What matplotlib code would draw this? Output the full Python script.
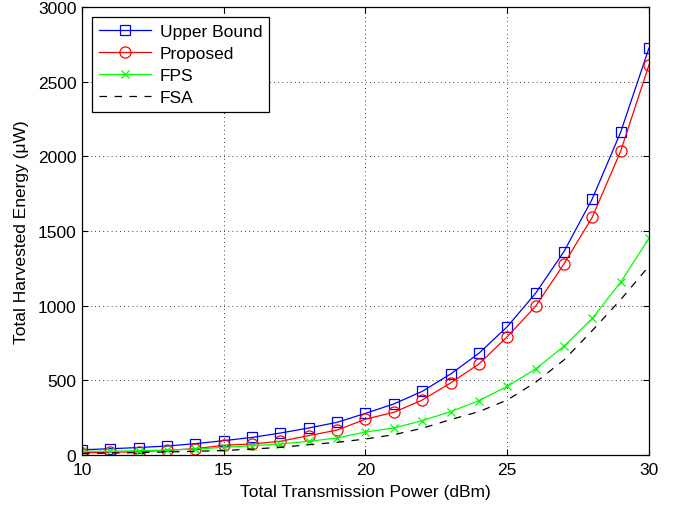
import matplotlib
matplotlib.use("Agg")
import matplotlib.pyplot as plt

plt.rcParams['font.family'] = ['Liberation Sans', 'DejaVu Sans']

power_dbm = list(range(10, 31))
upper_bound = [35, 42, 50, 60, 76, 96, 118, 147, 181, 219, 279, 342, 426, 542, 681, 859, 1083, 1362, 1715, 2161, 2725]
proposed = [15, 18, 22, 32, 42, 65, 74, 92, 130, 167, 240, 286, 368, 482, 609, 792, 996, 1279, 1592, 2034, 2612]
fps = [25, 25, 29, 33, 40, 51, 62, 74, 92, 114, 154, 181, 230, 290, 364, 460, 576, 728, 915, 1157, 1451]
fsa = [10, 13, 16, 20, 25, 30, 40, 51, 69, 85, 107, 136, 179, 237, 290, 368, 487, 636, 833, 1040, 1265]

fig = plt.figure(figsize=(6.85, 5.06), dpi=100)
ax = fig.add_axes([0.1197, 0.0988, 0.8277, 0.8854])

ax.plot(power_dbm, upper_bound, color='blue', lw=0.9, marker='s', ms=7, mfc='none', mec='blue', mew=0.9, label='Upper Bound')
ax.plot(power_dbm, proposed, color='red', lw=0.9, marker='o', ms=8, mfc='none', mec='red', mew=0.9, label='Proposed')
ax.plot(power_dbm, fps, color=(0, 1, 0), lw=0.9, marker='x', ms=6, mec=(0, 1, 0), mew=0.9, label='FPS')
ax.plot(power_dbm, fsa, color='black', lw=0.9, dashes=(6, 6), label='FSA')

ax.set_xlim(10, 30)
ax.set_ylim(0, 3000)
ax.set_xticks([10, 15, 20, 25, 30])
ax.set_yticks([0, 500, 1000, 1500, 2000, 2500, 3000])
ax.tick_params(direction='in', top=True, right=True, labelsize=12.5, length=4, pad=4)
ax.tick_params(axis='x', pad=5)
ax.grid(True, color='black', linestyle=(0, (1, 4)), linewidth=0.6)
for s in ax.spines.values():
    s.set_linewidth(0.9)

ax.set_xlabel('Total Transmission Power (dBm)', fontsize=12.5, labelpad=5)
ax.set_ylabel('Total Harvested Energy (μW)', fontsize=12.5, labelpad=6)

leg = ax.legend(loc='upper left', fontsize=12.5, fancybox=False, framealpha=1, edgecolor='black',
                handlelength=3.0, handletextpad=0.5, borderpad=0.4, labelspacing=0.4,
                borderaxespad=0, bbox_to_anchor=(0.018, 0.978))
leg.get_frame().set_linewidth(0.9)

fig.savefig('out.png', dpi=100)
